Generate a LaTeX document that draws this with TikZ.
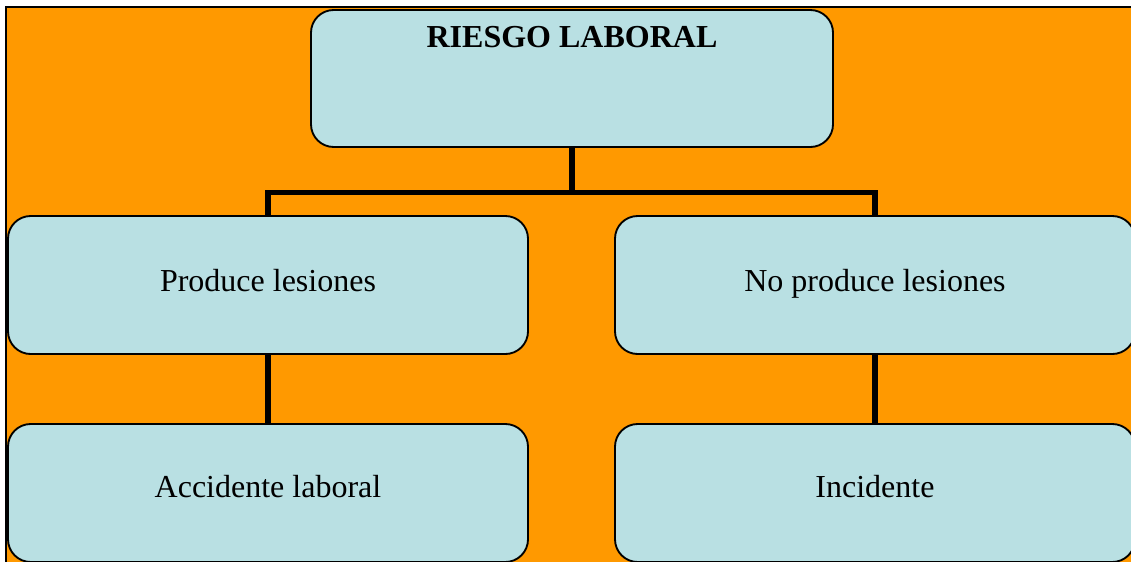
\documentclass[tikz,border=0pt]{standalone}
\usepackage{fontspec}
\setmainfont{Liberation Serif}
\definecolor{bgorange}{HTML}{FF9900}
\definecolor{boxblue}{HTML}{B9E0E3}
\tikzset{
  box/.style={draw=black, line width=1.4pt, fill=boxblue, rounded corners=17pt,
    minimum width=390pt, minimum height=103.5pt, inner sep=0pt, outer sep=0pt},
  lbl/.style={anchor=base, inner sep=0pt, font=\fontsize{24pt}{28pt}\selectfont},
  conn/.style={line width=3.8pt}
}
\begin{document}
\begin{tikzpicture}[x=0.75pt,y=-0.75pt]
\useasboundingbox (0,0) rectangle (1131,561);
\fill[bgorange] (6,7) rectangle (1145,575);
\draw[line width=1.4pt] (6,580) -- (6,7) -- (1145,7);
\coordinate (j) at (572,192.5);
\node[box, minimum width=391.5pt, minimum height=102.75pt] (top) at (572,78.5) {};
\node[box] (pl) at (268,285) {};
\node[box] (np) at (875,285) {};
\node[box] (al) at (268,493) {};
\node[box] (inc) at (875,493) {};
\draw[conn] (top.south) -- (j);
\draw[conn] (pl.north) |- (j) -| (np.north);
\draw[conn] (pl.south) -- (al.north);
\draw[conn] (np.south) -- (inc.north);
\node[lbl, font=\fontsize{24pt}{28pt}\selectfont\bfseries] (t0) at (572,47) {RIESGO LABORAL};
\node[lbl] (t1) at (268,291) {Produce lesiones};
\node[lbl] (t2) at (875,291) {No produce lesiones};
\node[lbl] (t3) at (268,497) {Accidente laboral};
\node[lbl] (t4) at (875,497) {Incidente};
\end{tikzpicture}
\end{document}
